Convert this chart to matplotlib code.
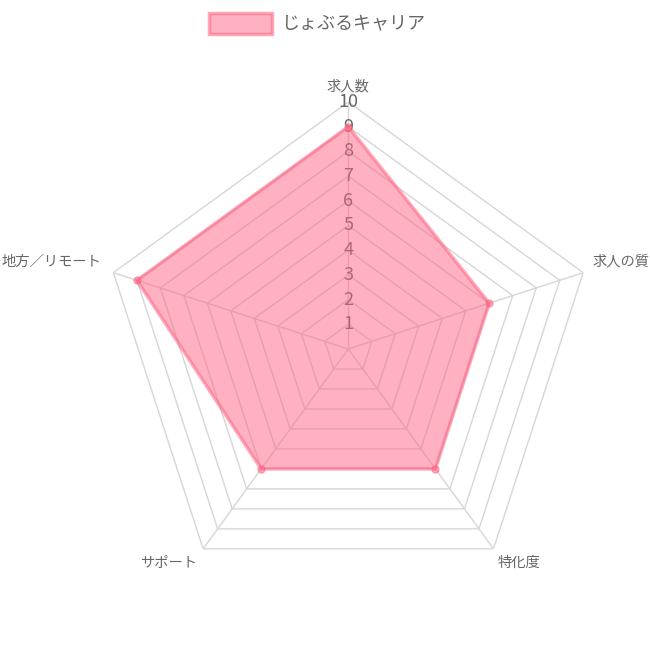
import numpy as np
import matplotlib
matplotlib.use("Agg")
import matplotlib.pyplot as plt
from matplotlib.patches import Rectangle

plt.rcParams['font.family'] = ['Noto Sans CJK JP', 'DejaVu Sans']

# データ
labels = ["求人数", "求人の質", "特化度", "サポート", "地方／リモート"]
values = [9, 6, 6, 6, 9]
series_name = "じょぶるキャリア"
r_ticks = [1, 2, 3, 4, 5, 6, 7, 8, 9, 10]
r_max = 10

fill_c = (1.0, 99 / 255, 132 / 255, 0.5)
line_c = (1.0, 99 / 255, 132 / 255, 0.55)
grid_c = "#d6d6d6"
text_c = "#666666"

W = 650
fig = plt.figure(figsize=(6.5, 6.5), dpi=100, facecolor="white")

# レーダーの中心と半径（ピクセル）
cx, cy, R = 348.3, 349, 247
ax = fig.add_axes([(cx - R) / W, (W - cy - R) / W, 2 * R / W, 2 * R / W], projection="polar")
ax.set_theta_offset(np.pi / 2)
ax.set_theta_direction(-1)
ax.set_ylim(0, r_max)
ax.grid(False)
ax.set_xticks([])
ax.set_yticks([])
ax.spines["polar"].set_visible(False)
ax.patch.set_alpha(0)

n = len(labels)
angles = np.linspace(0, 2 * np.pi, n, endpoint=False)
ang_closed = np.append(angles, angles[0])

# 五角形グリッド
for lv in r_ticks:
    ax.plot(ang_closed, [lv] * (n + 1), color=grid_c, lw=1, zorder=1)
for a in angles:
    ax.plot([a, a], [0, r_max], color=grid_c, lw=1, zorder=1)

# 目盛りラベル
for lv in r_ticks:
    ax.text(0, lv, str(lv), ha="center", va="center", fontsize=13, color=text_c, zorder=2, clip_on=False)

# データ
vals_closed = values + values[:1]
ax.fill(ang_closed, vals_closed, color=fill_c, zorder=3, lw=0)
ax.plot(ang_closed, vals_closed, color=line_c, lw=2.5, zorder=4)
ax.plot(angles, values, "o", ms=5, color=line_c, mec=line_c, zorder=5)

# 軸ラベル
offsets = [(0, 16, "center"), (9, 11, "left"), (4, -14, "left"), (-6, -14, "right"), (-12, 11, "right")]
for a, lab, (dx, dy, ha) in zip(angles, labels, offsets):
    ax.annotate(lab, xy=(a, r_max), xytext=(dx, dy), textcoords="offset pixels",
                ha=ha, va="center", fontsize=10.3, color=text_c, annotation_clip=False)

# 凡例
fig.add_artist(Rectangle((209 / W, (W - 34) / W), 63 / W, 21 / W, transform=fig.transFigure,
                         facecolor=fill_c, edgecolor=line_c, lw=2.5))
fig.text(282 / W, (W - 23) / W, series_name, ha="left", va="center", fontsize=13, color=text_c)

fig.savefig("out.png", dpi=100, facecolor="white")
